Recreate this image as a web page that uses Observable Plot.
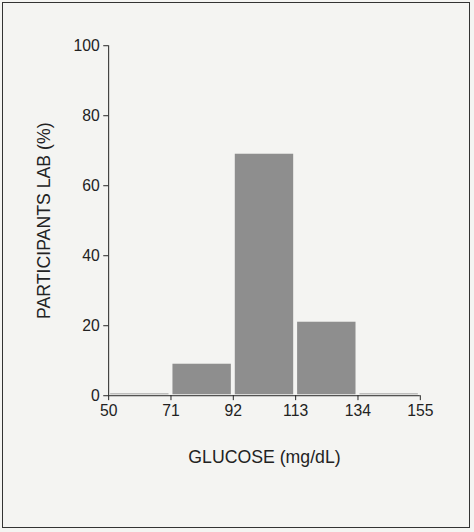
<!DOCTYPE html>
<html><head><meta charset="utf-8">
<script src="https://cdn.jsdelivr.net/npm/d3@7"></script>
<script src="https://cdn.jsdelivr.net/npm/@observablehq/plot@0.6"></script>
<style>
body{margin:0;background:#f4f4f2;}
#c{position:absolute;left:2px;top:2px;width:468px;height:526px;border:1.5px solid #333;box-sizing:border-box;}
</style>
</head><body><div id="c"></div>
<script>
const binStart = [50, 71, 92, 113, 134];
const binEnd = [71, 92, 113, 134, 155];
const percent = [0.5, 9, 69, 21, 0.5];
const xTicks = [50, 71, 92, 113, 134, 155];
const yTicks = [0, 20, 40, 60, 80, 100];
const data = binStart.map((s,i)=>({x1:s,x2:binEnd[i],y:percent[i]}));
const plot = Plot.plot({
  width:474, height:532,
  marginLeft:109, marginRight:48, marginTop:45, marginBottom:131,
  style:{fontFamily:"Liberation Sans, Arial", fontSize:"16px", background:"transparent", color:"#222"},
  x:{domain:[50,155], ticks:xTicks, label:"GLUCOSE (mg/dL)", labelAnchor:"center", labelOffset:68, tickSize:5, labelArrow:"none"},
  y:{domain:[0,100], ticks:yTicks, label:"PARTICIPANTS LAB (%)", labelAnchor:"center", labelOffset:72, tickSize:5, labelArrow:"none"},
  marks:[
    Plot.rectY(data,{x1:"x1",x2:"x2",y:"y",fill:"#8e8e8e",insetLeft:2,insetRight:2,insetBottom:1}),
    Plot.ruleX([50],{stroke:"#222"}),
    Plot.ruleY([0],{stroke:"#222"})
  ]
});
plot.style.position="absolute";plot.style.left="-2px";plot.style.top="-2px";
plot.querySelectorAll("[aria-label$='-axis label'] text").forEach(t=>t.style.fontSize="18px");
document.getElementById("c").appendChild(plot);
</script></body></html>
